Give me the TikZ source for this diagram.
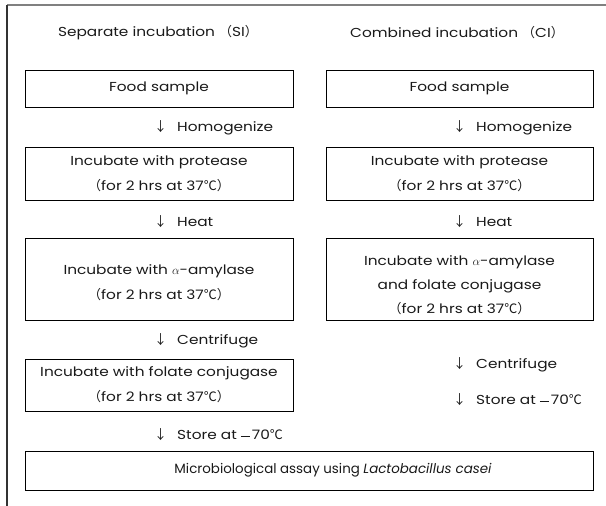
\documentclass[tikz,border=0pt]{standalone}
\usepackage{fontspec}
\setmainfont{Poppins}[FakeStretch=1.18]
\newfontfamily\narrowfont{Poppins}
\newfontfamily\cjk{Noto Sans CJK SC}
\newcommand{\degC}{{\cjk ℃}}
\newcommand{\lpar}{{\cjk （}}
\newcommand{\rpar}{{\cjk ）}}
\newcommand{\minus}{\rule[3.6pt]{9.5pt}{0.7pt}\hspace{1.5pt}}
\newcommand{\dn}{{\cjk ↓}\hspace{10pt}}
\tikzset{
	stepbox/.style={draw=black, line width=0.9pt, minimum width=268pt, inner sep=0pt, align=center, font=\fontsize{13}{25}\selectfont, text=black!90},
	steplabel/.style={anchor=west, inner sep=0pt, font=\fontsize{13}{15}\selectfont, text=black!90},
	coltitle/.style={inner sep=0pt, font=\fontsize{13}{15}\selectfont, text=black!90},
}

\begin{document}
\begin{tikzpicture}[x=1pt,y=-1pt]
				\useasboundingbox (0,0) rectangle (606,506);
				\draw[black!50, line width=1.5pt] (7,5) -- (606,5);
				\draw[black!80, line width=1.5pt] (7,5) -- (7,506);
				
				\node[coltitle] (titleSI) at (158,33) {Separate incubation \lpar SI\rpar};
				\node[coltitle] (titleCI) at (457,33) {Combined incubation \lpar CI\rpar};
				
				\node[stepbox, minimum height=37pt] (foodSI) at (159,88.5) {Food sample};
				\node[steplabel] (homSI) at (154,128) {\dn Homogenize};
				\node[stepbox, minimum height=53pt] (protSI) at (159,173.5) {Incubate with protease\\\lpar for 2 hrs at 37\degC\rpar};
				\node[steplabel] (heatSI) at (154,222) {\dn Heat};
				\node[stepbox, minimum height=82pt] (amylSI) at (159,279) {\rule{0pt}{18pt}Incubate with $\alpha$-amylase\\\lpar for 2 hrs at 37\degC\rpar};
				\node[steplabel] (centSI) at (154,341) {\dn Centrifuge};
				\node[stepbox, minimum height=52pt] (folSI) at (159,385) {Incubate with folate conjugase\\\lpar for 2 hrs at 37\degC\rpar};
				\node[steplabel] (storeSI) at (154,435) {\dn Store at \minus 70\degC};
				
				\node[stepbox, minimum width=267pt, minimum height=37pt] (foodCI) at (459.5,88.5) {Food sample};
				\node[steplabel] (homCI) at (453,128) {\dn Homogenize};
				\node[stepbox, minimum width=267pt, minimum height=53pt] (protCI) at (459.5,173.5) {Incubate with protease\\\lpar for 2 hrs at 37\degC\rpar};
				\node[steplabel] (heatCI) at (453,222) {\dn Heat};
				\node[stepbox, minimum width=267pt, minimum height=82pt, font=\fontsize{13}{24}\selectfont] (mixCI) at (459.5,279) {\rule{0pt}{22pt}Incubate with $\alpha$-amylase\\and folate conjugase\\\lpar for 2 hrs at 37\degC\rpar};
				\node[steplabel] (centCI) at (453,365) {\dn Centrifuge};
				\node[steplabel] (storeCI) at (453,400) {\dn Store at \minus 70\degC};
				
				\node[stepbox, minimum width=568pt, minimum height=39pt, font=\fontsize{13.4}{15}\narrowfont] (assay) at (309,470.5) {\hspace*{48pt}Microbiological assay using \textit{Lactobacillus casei}};
			\end{tikzpicture}
\end{document}
